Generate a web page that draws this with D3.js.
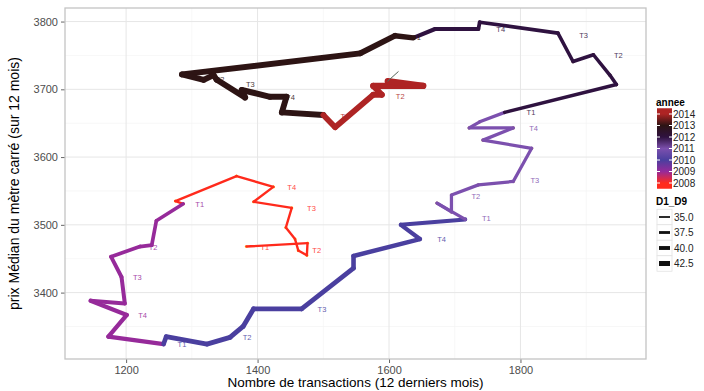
<!DOCTYPE html>
<html>
<head>
<meta charset="utf-8">
<script src="https://cdn.jsdelivr.net/npm/d3@7"></script>
<style>
  body { margin: 0; background: #fff; }
  svg { font-family: "Liberation Sans", Arial, sans-serif; }
</style>
</head>
<body>
<div id="chart"></div>
<script>
// monthly path: transactions (12 last months) vs median price / m2
const transactions = [1383,1476,1475,1462,1457,1443,1452,1394,1424,1368,1275,
  1287,1246,1239,1221,1177,1193,1198,1146,1201,1173,
  1257,1261,1323,1358,1378,1394,1467,1546,1546,1647,1618,
  1716,1673,1695,1695,1736,1789,1817,1743,1789,1722,1738,
  1776,1946,1936,1911,1880,1857,1738,1736,1670,
  1637,1609,1556,1285,1318,1333,1338,1381,1376,1419,1444,1437,
  1500,1518,1576,1589,1576,1652,1598,1614];
const prixMedian = [3468,3473,3455,3462,3479,3496,3525,3534,3556,3572,3535,
  3531,3506,3470,3468,3453,3423,3384,3388,3367,3335,
  3324,3335,3324,3334,3350,3376,3376,3436,3454,3479,3500,
  3508,3532,3519,3544,3559,3564,3613,3625,3643,3643,3652,
  3666,3707,3721,3751,3741,3783,3799,3789,3789,
  3776,3779,3753,3722,3714,3721,3714,3688,3699,3689,3689,3666,
  3662,3644,3692,3692,3705,3705,3712,3726];
const annee = [2008,2008,2008,2008,2008,2008,2008,2008,2008,2008,2008,
  2009,2009,2009,2009,2009,2009,2009,2009,2009,2009,
  2010,2010,2010,2010,2010,2010,2010,2010,2010,2010,2010,
  2011,2011,2011,2011,2011,2011,2011,2011,2011,2011,2011,
  2012,2012,2012,2012,2012,2012,2012,2012,2012,
  2013,2013,2013,2013,2013,2013,2013,2013,2013,2013,2013,2013,
  2014,2014,2014,2014,2014,2014,2015,2015];
const d1d9 = [35.3,35.3,35.3,35.3,35.3,35.3,35.3,35.4,35.4,35.4,35.5,
  37.5,37.8,38,38,38.2,38.4,38.6,38.8,39,39,
  39.5,39.8,40,40,40,40,39.8,39.5,39.2,38.8,38.5,
  37,37,37,37,37,37,37,37,37,37,37,
  37.5,37.5,37.5,37.5,37.5,37.8,38,38,38.5,
  41,41.5,42,42,42,42,42,42,42,42,42,42,
  41.5,41.5,41.8,42,42.5,42.5,33,33];

// quarter labels
const trimText = ["T1","T2","T3","T4","T1","T2","T3","T4","T1","T2","T3","T4",
  "T1","T2","T3","T4","T1","T2","T3","T4","T1","T2","T3","T4","T1","T2"];
const trimX = [1411,1490,1482,1452,1312,1241,1217,1225,1285,1384,1498,1680,
  1748,1732,1822,1820,1816,1949,1896,1770,1642,1343,1389,1450,1533,1617];
const trimY = [3466,3462,3524,3555,3530,3466,3422,3367,3324,3334,3375,3479,
  3510,3542,3565,3643,3666,3750,3780,3788,3776,3715,3707,3688,3660,3689];
const trimAnnee = [2008,2008,2008,2008,2009,2009,2009,2009,2010,2010,2010,2010,
  2011,2011,2011,2011,2012,2012,2012,2012,2013,2013,2013,2013,2014,2014];

const years = [2008,2009,2010,2011,2012,2013,2014];
const yearColors = ["#ff2a1c","#962a9a","#4a3f9f","#7c50ae","#2f1240","#2d1414","#ae2424"];
const sizeBreaks = [35.0,37.5,40.0,42.5];
const xTicks = [1200,1400,1600,1800];
const yTicks = [3400,3500,3600,3700,3800];

const width = 704, height = 391;
const margin = {top: 8, right: 58, bottom: 32, left: 65};

const svg = d3.select("#chart").append("svg")
  .attr("width", width).attr("height", height);

const x = d3.scaleLinear().domain([1107, 1991]).range([margin.left, width - margin.right]);
const y = d3.scaleLinear().domain([3302, 3820]).range([height - margin.bottom, margin.top]);
const color = d3.scaleOrdinal().domain(years).range(yearColors).unknown("#56655a");
const size = d3.scaleLinear().domain([35, 42.5]).range([2.2, 6.2]);

// grid
const grid = svg.append("g");
const xMinor = [1300,1500,1700,1900], yMinor = [3350,3450,3550,3650,3750];
grid.selectAll(".xm").data(xMinor).enter().append("line")
  .attr("x1", d => x(d)).attr("x2", d => x(d))
  .attr("y1", y.range()[0]).attr("y2", y.range()[1])
  .attr("stroke", "#f3f3f3").attr("stroke-width", 0.7);
grid.selectAll(".ym").data(yMinor).enter().append("line")
  .attr("x1", x.range()[0]).attr("x2", x.range()[1])
  .attr("y1", d => y(d)).attr("y2", d => y(d))
  .attr("stroke", "#f3f3f3").attr("stroke-width", 0.7);
grid.selectAll(".xM").data(xTicks).enter().append("line")
  .attr("x1", d => x(d)).attr("x2", d => x(d))
  .attr("y1", y.range()[0]).attr("y2", y.range()[1])
  .attr("stroke", "#e6e6e6").attr("stroke-width", 1);
grid.selectAll(".yM").data(yTicks).enter().append("line")
  .attr("x1", x.range()[0]).attr("x2", x.range()[1])
  .attr("y1", d => y(d)).attr("y2", d => y(d))
  .attr("stroke", "#e6e6e6").attr("stroke-width", 1);

// axes
const xAxis = svg.append("g")
  .attr("transform", "translate(0," + y.range()[0] + ")")
  .call(d3.axisBottom(x).tickValues(xTicks).tickFormat(d3.format("d")).tickSize(4).tickPadding(3));
const yAxis = svg.append("g")
  .attr("transform", "translate(" + x.range()[0] + ",0)")
  .call(d3.axisLeft(y).tickValues(yTicks).tickFormat(d3.format("d")).tickSize(4).tickPadding(3));
[xAxis, yAxis].forEach(a => {
  a.select(".domain").remove();
  a.selectAll(".tick line").attr("stroke", "#666");
  a.selectAll(".tick text").attr("fill", "#4d4d4d")
    .style("font-size", "11px").style("font-family", "Liberation Sans, Arial, sans-serif");
});

// vertex dots then path segments
const pts = transactions.map((t, i) => ({x: t, y: prixMedian[i], an: annee[i], d: d1d9[i]}));
svg.append("g").selectAll("circle").data(pts.slice(0, 64)).enter().append("circle")
  .attr("cx", d => x(d.x)).attr("cy", d => y(d.y)).attr("r", 1.6)
  .attr("fill", "#ffd21a").attr("opacity", 0.8);

const segs = pts.slice(0, -1).map((p, i) => ({a: p, b: pts[i + 1]}));
svg.append("g").selectAll("line").data(segs).enter().append("line")
  .attr("x1", d => x(d.a.x)).attr("y1", d => y(d.a.y))
  .attr("x2", d => x(d.b.x)).attr("y2", d => y(d.b.y))
  .attr("stroke", d => color(d.a.an))
  .attr("stroke-width", d => d.a.d < 35 ? 1 : size(d.a.d))
  .attr("stroke-linecap", "round");

// quarter labels
svg.append("g").selectAll("text").data(trimText).enter().append("text")
  .attr("x", (d, i) => x(trimX[i])).attr("y", (d, i) => y(trimY[i]))
  .attr("text-anchor", "middle").attr("dy", "0.35em")
  .attr("fill", (d, i) => color(trimAnnee[i])).attr("opacity", 0.85)
  .style("font-size", "7.5px")
  .text(d => d);

// panel border
svg.append("rect")
  .attr("x", x.range()[0]).attr("y", y.range()[1])
  .attr("width", x.range()[1] - x.range()[0]).attr("height", y.range()[0] - y.range()[1])
  .attr("fill", "none").attr("stroke", "#c4c4c4").attr("stroke-width", 1.3);

// axis titles
svg.append("text")
  .attr("x", (x.range()[0] + x.range()[1]) / 2).attr("y", 387)
  .attr("text-anchor", "middle").style("font-size", "13.5px")
  .text("Nombre de transactions (12 derniers mois)");
svg.append("text")
  .attr("transform", "translate(19," + ((y.range()[0] + y.range()[1]) / 2) + ") rotate(-90)")
  .attr("text-anchor", "middle").style("font-size", "14px")
  .text("prix Médian du mètre carré (sur 12 mois)");

// legend: annee colour bar
const lg = svg.append("g");
lg.append("text").attr("x", 656).attr("y", 106)
  .style("font-size", "10px").style("font-weight", "bold").text("annee");
const barScale = d3.scaleLinear().domain([2008, 2014]).range([183, 114]);
const grad = svg.append("defs").append("linearGradient")
  .attr("id", "anneeGrad").attr("x1", 0).attr("y1", 1).attr("x2", 0).attr("y2", 0);
grad.selectAll("stop").data(years).enter().append("stop")
  .attr("offset", d => ((d - 2007.5) / 7).toFixed(3))
  .attr("stop-color", d => color(d));
lg.append("rect").attr("x", 657).attr("y", barScale(2014.5))
  .attr("width", 15).attr("height", barScale(2007.5) - barScale(2014.5))
  .attr("fill", "url(#anneeGrad)");
years.forEach(yr => {
  const yy = barScale(yr);
  lg.append("line").attr("x1", 657).attr("x2", 660).attr("y1", yy).attr("y2", yy)
    .attr("stroke", "#fff").attr("stroke-width", 1);
  lg.append("line").attr("x1", 669).attr("x2", 672).attr("y1", yy).attr("y2", yy)
    .attr("stroke", "#fff").attr("stroke-width", 1);
  lg.append("text").attr("x", 673).attr("y", yy).attr("dy", "0.35em")
    .style("font-size", "10px").attr("fill", "#222").text(yr);
});

// legend: D1_D9 line sizes
lg.append("text").attr("x", 656).attr("y", 205)
  .style("font-size", "10px").style("font-weight", "bold").text("D1_D9");
sizeBreaks.forEach((s, i) => {
  const yy = 217 + i * 15.5;
  lg.append("rect").attr("x", 657).attr("y", yy - 7.75).attr("width", 15).attr("height", 15.5)
    .attr("fill", "#fff").attr("stroke", "#e2e2e2").attr("stroke-width", 0.8);
  lg.append("line").attr("x1", 659).attr("x2", 670).attr("y1", yy).attr("y2", yy)
    .attr("stroke", "#111").attr("stroke-width", size(s) * 0.8);
  lg.append("text").attr("x", 674).attr("y", yy).attr("dy", "0.35em")
    .style("font-size", "10px").attr("fill", "#222").text(s.toFixed(1));
});
</script>
</body>
</html>
